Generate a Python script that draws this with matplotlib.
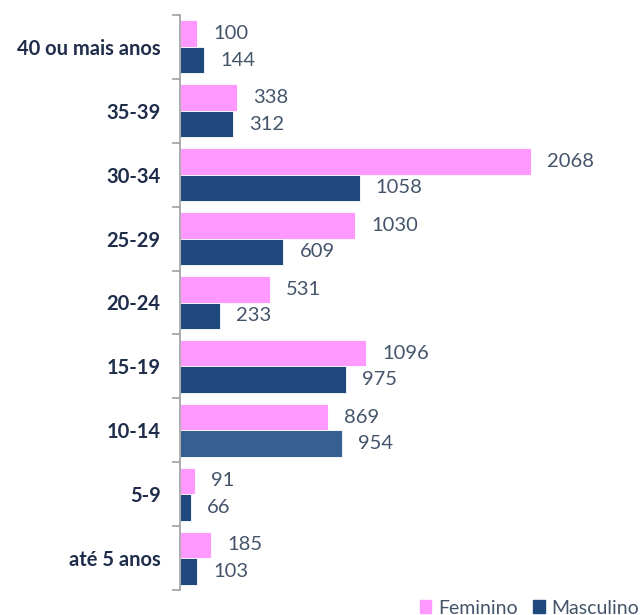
import matplotlib.pyplot as plt
import numpy as np
from matplotlib.patches import Patch

categorias = ['40 ou mais anos', '35-39', '30-34', '25-29', '20-24',
              '15-19', '10-14', '5-9', 'até 5 anos']
feminino = [100, 338, 2068, 1030, 531, 1096, 869, 91, 185]
masculino = [144, 312, 1058, 609, 233, 975, 954, 66, 103]

cor_fem = '#FF99FF'
cor_masc = '#1F497D'
cor_masc_claro = '#366092'
cor_texto = '#44546A'
cor_cat = '#1F2D4A'

plt.rcParams['font.family'] = ['Lato', 'DejaVu Sans']

fig = plt.figure(figsize=(6.43, 6.15), dpi=100)
ax = fig.add_axes([180 / 643, 1 - 590 / 615, 420 / 643, 575 / 615])

n = len(categorias)
y = np.arange(n)[::-1]  # top category at highest y
h = 0.415

cores_masc = [cor_masc] * n
cores_masc[categorias.index('10-14')] = cor_masc_claro

ax.barh(y + h / 2, feminino, height=h, color=cor_fem, edgecolor='white', linewidth=0.6)
ax.barh(y - h / 2, masculino, height=h, color=cores_masc, edgecolor='white', linewidth=0.6)

for yi, v in zip(y, feminino):
    ax.annotate(str(v), (v, yi + h / 2), xytext=(11.5, 0), textcoords='offset points',
                va='center', ha='left', fontsize=14.5, color=cor_texto)
for yi, v in zip(y, masculino):
    ax.annotate(str(v), (v, yi - h / 2), xytext=(11.5, 0), textcoords='offset points',
                va='center', ha='left', fontsize=14.5, color=cor_texto)

ax.set_ylim(-0.5, n - 0.5)
ax.set_xlim(0, 420 / 0.1698)

ax.set_yticks(y)
ax.set_yticklabels(categorias, fontsize=14.5, fontweight='bold', color=cor_cat)
ax.tick_params(axis='y', which='major', length=0, pad=14)
ax.set_yticks(np.arange(-0.5, n), minor=True)
ax.tick_params(axis='y', which='minor', length=6, color='#A0A0A0', width=1.2)
ax.set_xticks([])

for s in ['top', 'right', 'bottom']:
    ax.spines[s].set_visible(False)
ax.spines['left'].set_color('#A0A0A0')
ax.spines['left'].set_linewidth(1.2)

handles = [Patch(color=cor_fem, label='Feminino'), Patch(color=cor_masc, label='Masculino')]
fig.legend(handles=handles, loc='center left', bbox_to_anchor=(402 / 643, 1 - 608 / 615),
           ncol=2, frameon=False, fontsize=14, handlelength=0.6, handleheight=0.6,
           handletextpad=0.35, columnspacing=0.8, labelcolor=cor_texto)

fig.savefig('out.png', dpi=100)
